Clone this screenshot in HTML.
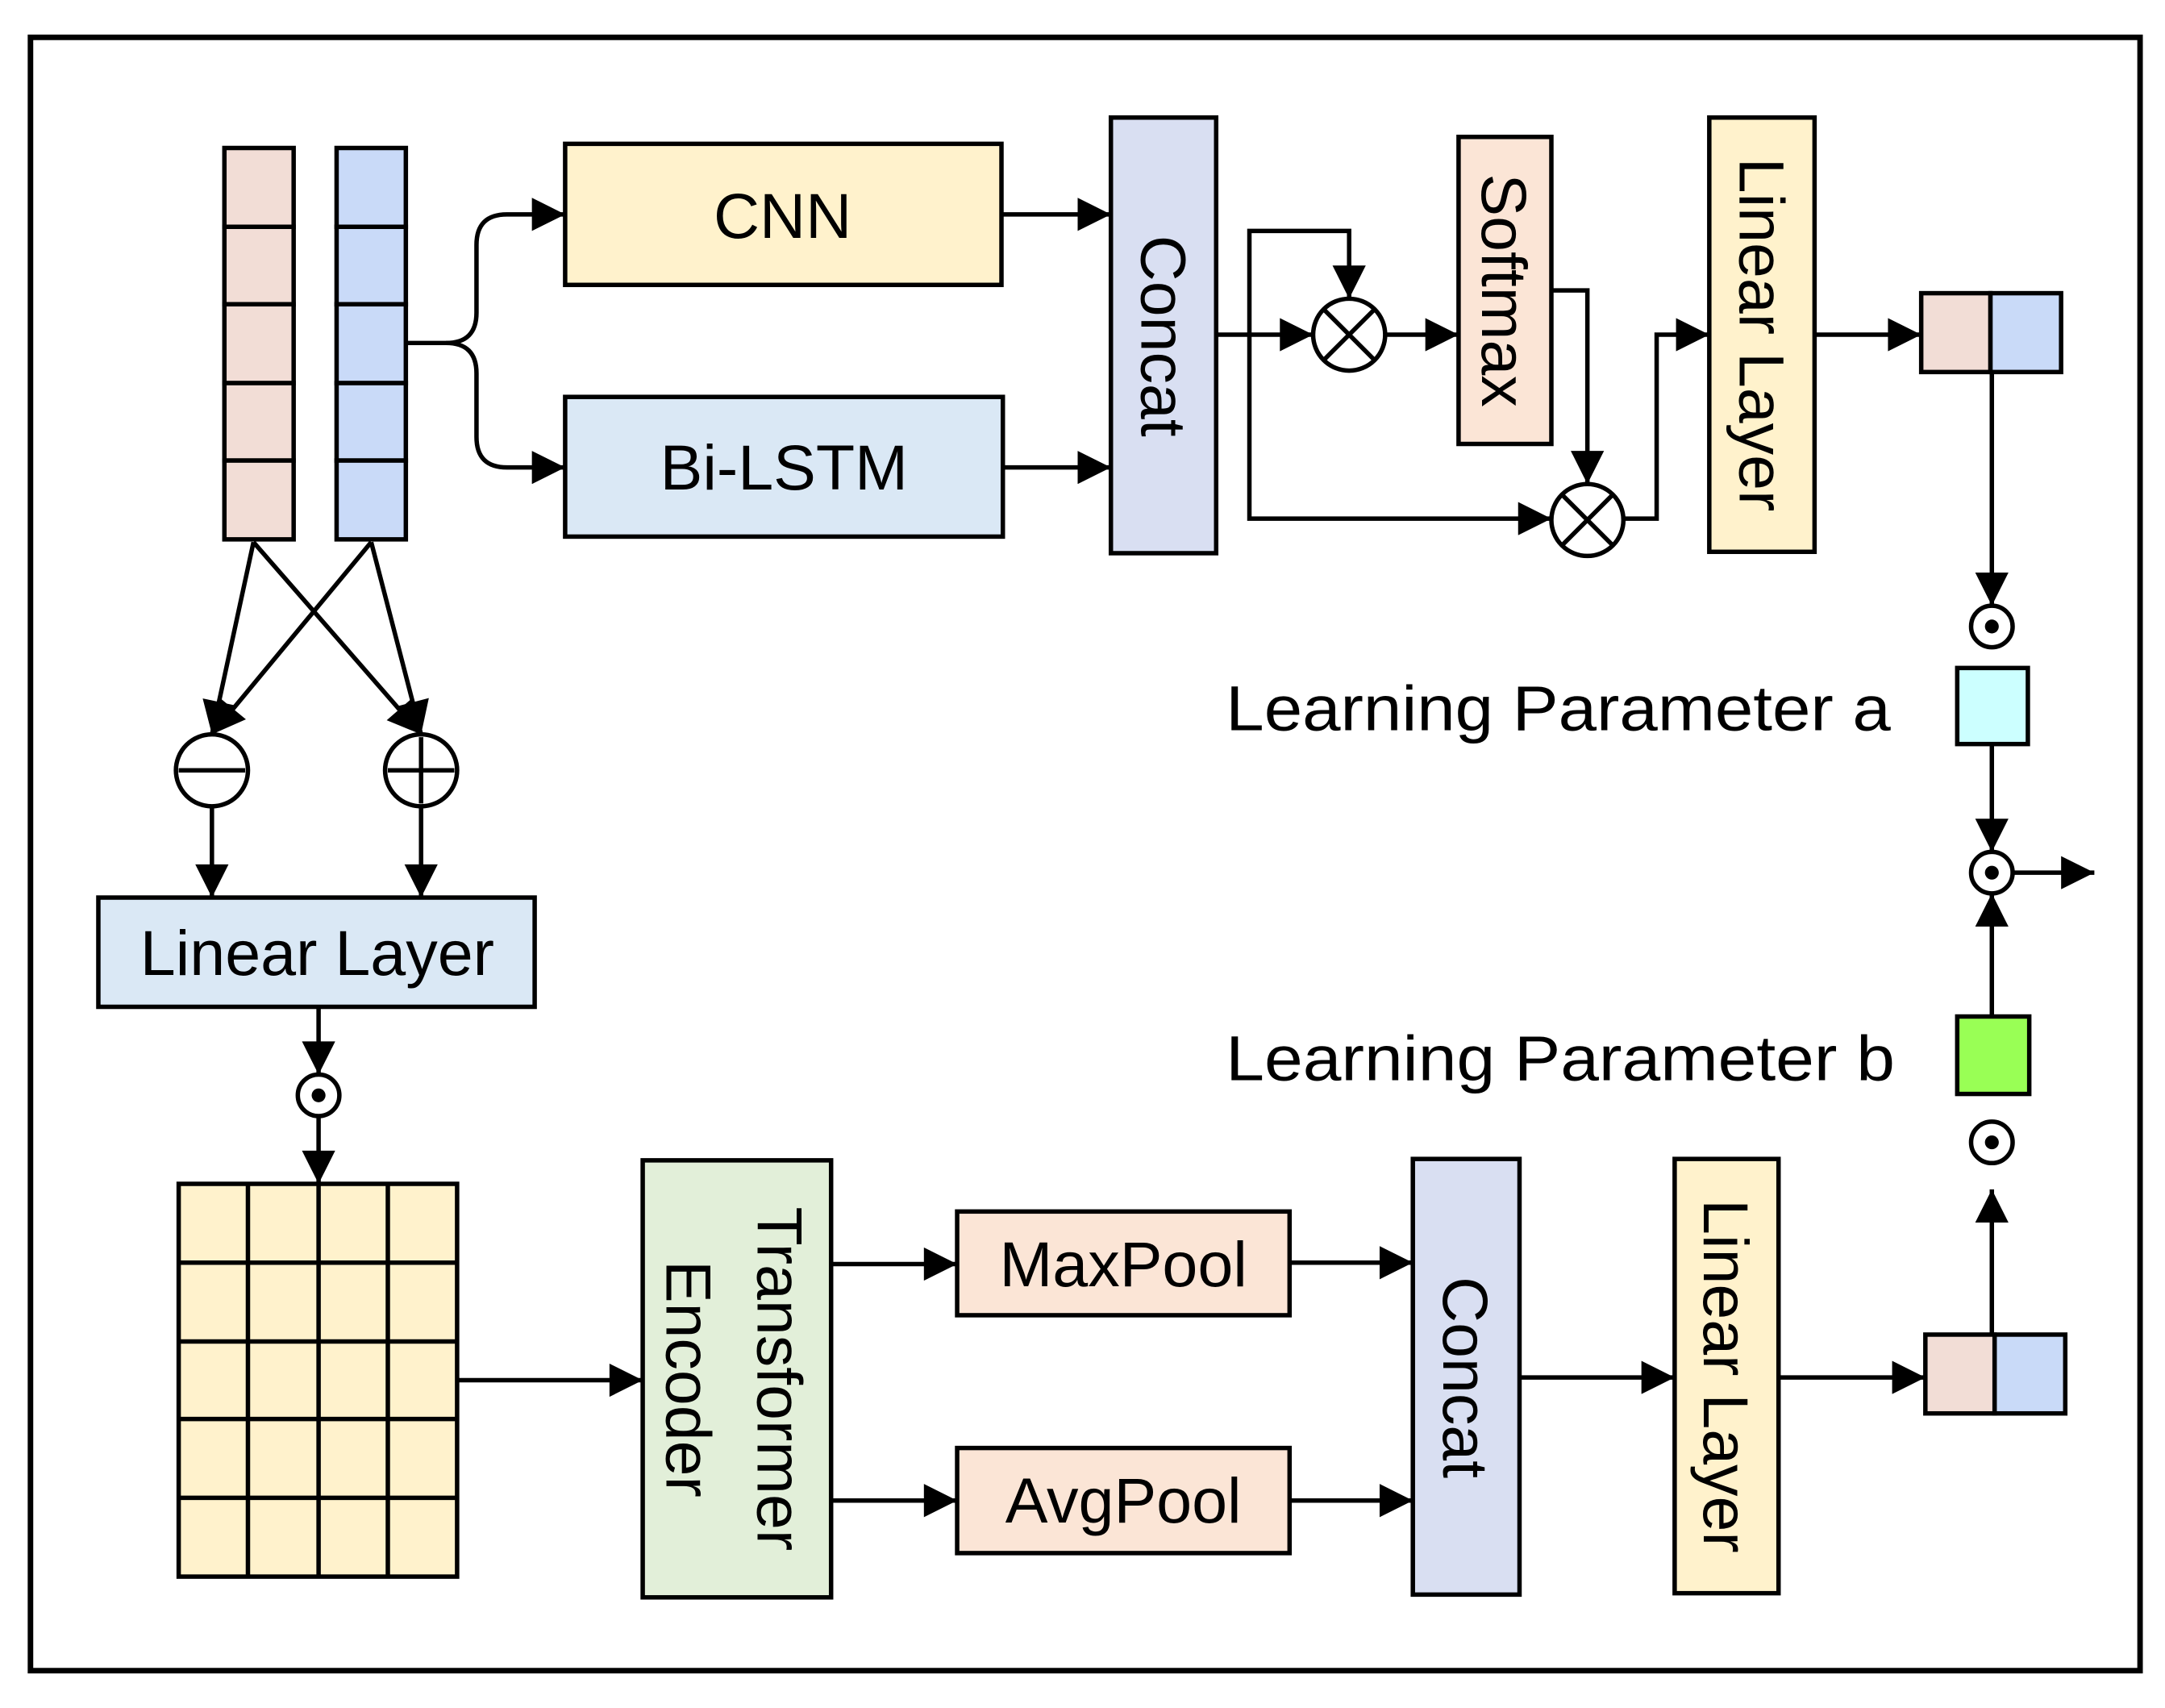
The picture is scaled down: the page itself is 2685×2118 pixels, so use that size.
<!DOCTYPE html>
<html><head><style>html,body{margin:0;padding:0;background:#fff}svg{display:block}</style></head>
<body>
<svg width="2685" height="2118" viewBox="0 0 1563 1235" preserveAspectRatio="none" xmlns="http://www.w3.org/2000/svg" font-family="Liberation Sans, sans-serif">
<defs>
<marker id="b" viewBox="0 0 10 10" refX="10" refY="5" markerWidth="26" markerHeight="24" markerUnits="userSpaceOnUse" orient="auto">
<path d="M0,0 L10,5 L0,10 z" fill="#000"/></marker>
</defs>
<rect x="0" y="0" width="1563" height="1235" fill="#fff"/>
<rect x="22" y="27" width="1523" height="1181" fill="none" stroke="#000" stroke-width="4"/>
<g stroke="#000" stroke-width="3.2">
<g fill="#f2ddd6"><rect x="162" y="107" width="50" height="57"/><rect x="162" y="164" width="50" height="56"/><rect x="162" y="220" width="50" height="57"/><rect x="162" y="277" width="50" height="56"/><rect x="162" y="333" width="50" height="57"/></g>
<g fill="#c9daf8"><rect x="243" y="107" width="50" height="57"/><rect x="243" y="164" width="50" height="56"/><rect x="243" y="220" width="50" height="57"/><rect x="243" y="277" width="50" height="56"/><rect x="243" y="333" width="50" height="57"/></g>
<rect x="408" y="104" width="315" height="102" fill="#fff2cc"/>
<rect x="408" y="287" width="316" height="101" fill="#dae8f5"/>
<rect x="802" y="85" width="76" height="315" fill="#d9dff2"/>
<rect x="1053" y="99" width="67" height="222" fill="#fbe5d6"/>
<rect x="1234" y="85" width="76" height="314" fill="#fff2cc"/>
<rect x="1387" y="212" width="50" height="57" fill="#f2ddd6"/><rect x="1437" y="212" width="51" height="57" fill="#c9daf8"/>
<rect x="1413" y="483" width="51" height="55" fill="#ccffff"/>
<rect x="1413" y="735" width="52" height="56" fill="#99ff55"/>
<rect x="71" y="649" width="315" height="79" fill="#dae8f5"/>
<rect x="129" y="856" width="201" height="284" fill="#fff2cc"/>
<path d="M179,856V1140M230,856V1140M280,856V1140M129,913H330M129,970H330M129,1026H330M129,1083H330" fill="none"/>
<rect x="464" y="839" width="136" height="316" fill="#e2efd9"/>
<rect x="691" y="876" width="240" height="75" fill="#fbe5d6"/>
<rect x="691" y="1047" width="240" height="76" fill="#fbe5d6"/>
<rect x="1020" y="838" width="77" height="315" fill="#d9dff2"/>
<rect x="1209" y="838" width="75" height="314" fill="#fff2cc"/>
<rect x="1390" y="965" width="50" height="57" fill="#f2ddd6"/><rect x="1440" y="965" width="51" height="57" fill="#c9daf8"/>
<g fill="#fff">
<circle cx="974" cy="242" r="26"/><circle cx="1146" cy="376" r="26"/>
<circle cx="153" cy="557" r="26"/><circle cx="304" cy="557" r="26"/>
<circle cx="1438" cy="453" r="15"/><circle cx="1438" cy="631" r="15"/><circle cx="1438" cy="826" r="15"/><circle cx="230" cy="792" r="15"/>
</g>
<path d="M956,224L992,260M992,224L956,260M1128,358L1164,394M1164,358L1128,394M129,557H177M280,557H328M304,533V581" fill="none"/>
</g>
<g fill="#000"><circle cx="1438" cy="453" r="5"/><circle cx="1438" cy="631" r="5"/><circle cx="1438" cy="826" r="5"/><circle cx="230" cy="792" r="5"/></g>
<g stroke="#000" stroke-width="3.2" fill="none" marker-end="url(#b)">
<path d="M293,248H322Q344,248 344,226V177Q344,155 366,155H408"/>
<path d="M322,248Q344,248 344,270V316Q344,338 366,338H408"/>
<path d="M723,155H802"/><path d="M724,338H802"/>
<path d="M878,242H948"/>
<path d="M902,242V167H974V216"/>
<path d="M902,242V375H1120"/>
<path d="M1000,242H1053"/>
<path d="M1120,210H1146V350"/>
<path d="M1172,375H1196V242H1234"/>
<path d="M1310,242H1387"/>
<path d="M1438,269V438"/>
<path d="M1438,538V616"/>
<path d="M1453,631H1512"/>
<path d="M1438,735V646"/>
<path d="M1438,965V860"/>
<path d="M183,392L153,531"/><path d="M183,392L304,531"/>
<path d="M268,392L153,531"/><path d="M268,392L304,531"/>
<path d="M153,583V649"/><path d="M304,583V649"/>
<path d="M230,728V777"/><path d="M230,807V856"/>
<path d="M330,998H464"/>
<path d="M600,914H691"/><path d="M600,1085H691"/>
<path d="M931,913H1020"/><path d="M931,1085H1020"/>
<path d="M1097,996H1209"/><path d="M1284,996H1390"/>
</g>
<g font-size="46" fill="#000" text-anchor="middle">
<text x="565" y="172">CNN</text>
<text x="566" y="354">Bi-LSTM</text>
<text x="229" y="705">Linear Layer</text>
<text x="811" y="930">MaxPool</text>
<text x="811" y="1101">AvgPool</text>
<text x="840" y="243" transform="rotate(90 840 243)" dy="16">Concat</text>
<text x="1086" y="210" transform="rotate(90 1086 210)" dy="16">Softmax</text>
<text x="1272" y="242" transform="rotate(90 1272 242)" dy="16">Linear Layer</text>
<text x="1058" y="996" transform="rotate(90 1058 996)" dy="16">Concat</text>
<text x="1246" y="995" transform="rotate(90 1246 995)" dy="16">Linear Layer</text>
<text x="563" y="997" transform="rotate(90 563 997)" dy="16">Transformer</text>
<text x="497" y="997" transform="rotate(90 497 997)" dy="16">Encoder</text>
</g>
<g font-size="46" fill="#000">
<text x="885" y="528" textLength="480" lengthAdjust="spacingAndGlyphs">Learning Parameter a</text>
<text x="885" y="781" textLength="483" lengthAdjust="spacingAndGlyphs">Learning Parameter b</text>
</g>
</svg>
</body></html>
